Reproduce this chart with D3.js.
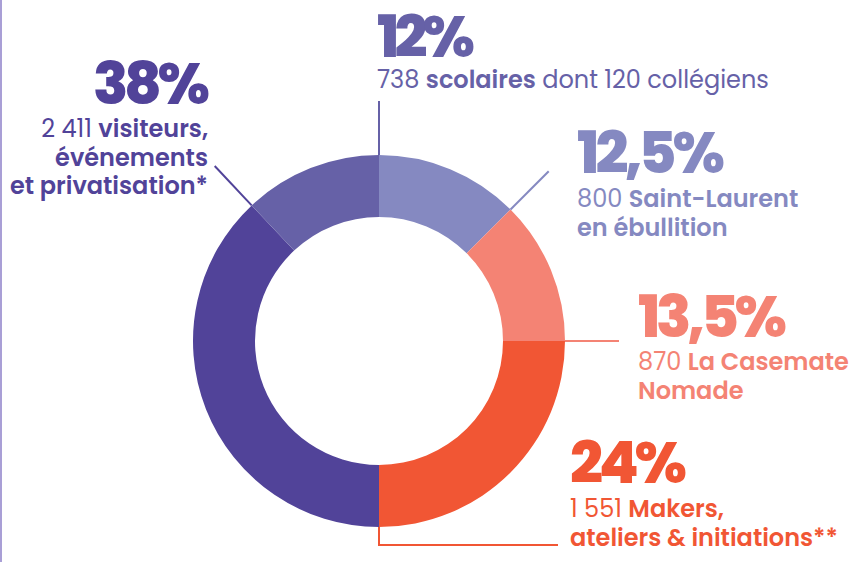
<!DOCTYPE html>
<html>
<head>
<meta charset="utf-8">
<script src="https://cdn.jsdelivr.net/npm/d3@7"></script>
<style>
  body { margin: 0; background: #fff; }
  svg { display: block; }
  text { font-family: Poppins, Inter, "Open Sans", sans-serif; }
</style>
</head>
<body>
<div id="chart"></div>
<script>
// Data, in drawing order (clockwise from 12 o'clock)
const categories = ["Saint-Laurent", "La Casemate", "Makers", "Visiteurs", "Scolaires"];
const percentLabels = ["12,5%", "13,5%", "24%", "38%", "12%"];
// slice sizes as drawn in the picture (printed labels differ slightly)
const arcShare = [12.5, 12.5, 25, 38, 12];
const counts = ["800", "870", "1 551", "2 411", "738"];
const nameLines = [
    ["Saint-Laurent", "en ébullition"],
    ["La Casemate", "Nomade"],
    ["Makers,", "ateliers & initiations**"],
    ["visiteurs,", "événements", "et privatisation*"],
    ["scolaires"]
];
const suffixes = ["", "", "", "", " dont 120 collégiens"];
const colors = ["#8589c1", "#f48374", "#f15634", "#514399", "#6661a7"];

// Dimensions
const width = 864, height = 562;
const cx = 379, cy = 341;
const outerR = 186, innerR = 124;

const svg = d3.select("#chart")
    .append("svg")
    .attr("width", width)
    .attr("height", height);

// Left border line
svg.append("line")
    .attr("x1", 1).attr("x2", 1)
    .attr("y1", 0).attr("y2", height)
    .attr("stroke", "#a99fd6")
    .attr("stroke-width", 2);

const g = svg.append("g")
    .attr("transform", `translate(${cx},${cy})`);

const pie = d3.pie().sort(null).value(d => d.share);
const arc = d3.arc().innerRadius(innerR).outerRadius(outerR);

const data = categories.map((c, i) => ({
    name: c, share: arcShare[i], pct: percentLabels[i], count: counts[i],
    lines: nameLines[i], suffix: suffixes[i], color: colors[i]
}));
const arcs = pie(data);

g.selectAll("path.slice")
    .data(arcs)
    .enter()
    .append("path")
    .attr("class", "slice")
    .attr("d", arc)
    .attr("fill", d => d.data.color);

// Leader lines, attached at each slice's end angle
const polar = (a, r) => [r * Math.sin(a), -r * Math.cos(a)];
const leadLen = 54;
arcs.forEach((d, i) => {
    const a = d.endAngle;
    let pts;
    if (d.data.name === "Makers") {
        const p0 = polar(a, outerR);
        pts = [p0, [p0[0], p0[1] + 18], [558 - cx, p0[1] + 18]];
    } else {
        pts = [polar(a, outerR), polar(a, outerR + leadLen)];
    }
    g.append("path")
        .attr("d", d3.line()(pts))
        .attr("fill", "none")
        .attr("stroke", d.data.color)
        .attr("stroke-width", 2);
});

// Label layout: anchor x, baseline of big number, first text line, target width of number
const layout = {
    "Saint-Laurent": { x: 577, big: 173, y: 207, w: 146, anchor: "start" },
    "La Casemate":   { x: 638, big: 337, y: 370, w: 147, anchor: "start" },
    "Makers":        { x: 570, big: 483, y: 517, w: 115, anchor: "start" },
    "Visiteurs":     { x: 208, big: 104, y: 137, w: 115, anchor: "end" },
    "Scolaires":     { x: 377, big: 57,  y: 88,  w: 96,  anchor: "start" }
};
const lineGap = 28.5;

data.forEach(d => {
    const L = layout[d.name];
    const big = svg.append("text")
        .attr("x", L.x)
        .attr("y", L.big)
        .attr("text-anchor", L.anchor)
        .attr("fill", d.color)
        .style("font-size", "58px")
        .style("font-weight", 800)
        .style("letter-spacing", "-2px")
        .text(d.pct);
    big.attr("textLength", L.w).attr("lengthAdjust", "spacing");

    d.lines.forEach((ln, j) => {
        const t = svg.append("text")
            .attr("x", L.x)
            .attr("y", L.y + j * lineGap)
            .attr("text-anchor", L.anchor)
            .attr("fill", d.color)
            .style("font-size", "24px");
        if (j === 0) {
            t.append("tspan").style("font-weight", 400).text(d.count + " ");
        }
        t.append("tspan").style("font-weight", 600).text(ln);
        if (j === 0 && d.suffix) {
            t.append("tspan").style("font-weight", 400).text(d.suffix);
        }
    });
});
</script>
</body>
</html>
